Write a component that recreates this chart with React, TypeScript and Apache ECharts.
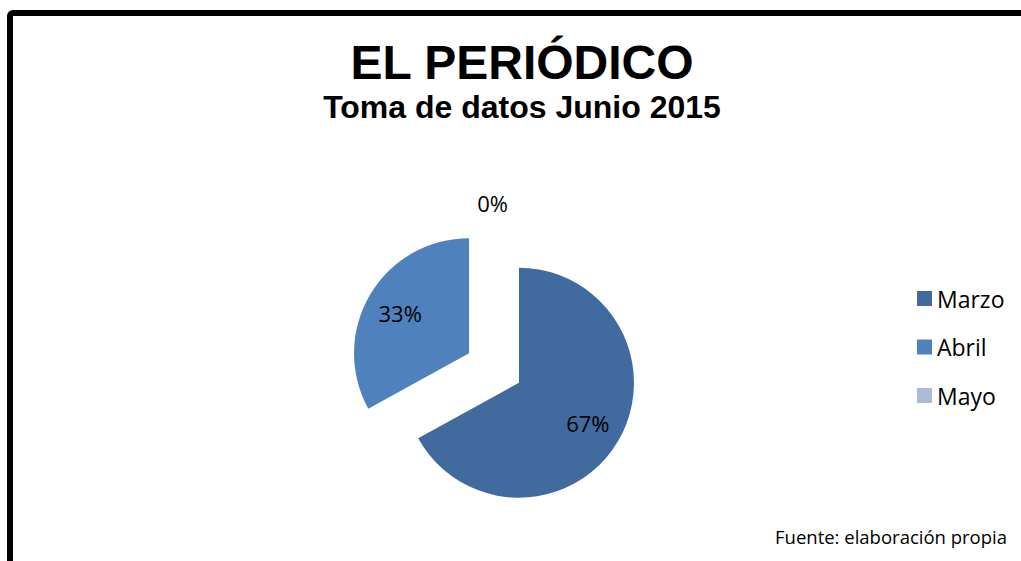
import React, { useEffect, useRef } from "react";
import * as echarts from "echarts";

const titleText = "EL PERIÓDICO";
const subtitleText = "Toma de datos Junio 2015";
const sourceText = "Fuente: elaboración propia";
const categories = ["Marzo", "Abril", "Mayo"];
const values = [67, 33, 0];
const colors = ["#416A9F", "#4F81BD", "#AABAD7"];

export default function App() {
  const ref = useRef<HTMLDivElement>(null);
  useEffect(() => {
    if (!ref.current) return;
    const chart = echarts.init(ref.current, undefined, { renderer: "svg" });
    const center = [494, 368];
    const visData = categories.map((name, i) => ({
      name,
      value: values[i],
      selected: true,
      itemStyle: { color: colors[i] },
      label: {
        show: values[i] === 0,
        position: "outside",
        fontFamily: "Open Sans",
        fontSize: 22,
        color: "#000",
        formatter: "{d}%",
        distanceToLabelLine: -14,
      },
      labelLine: { show: false, length: 21, length2: 0 },
    }));
    const labelData = categories.map((name, i) => ({
      name,
      value: values[i],
      selected: true,
      itemStyle: { color: "rgba(0,0,0,0)" },
      label: { show: values[i] !== 0 },
    }));
    chart.setOption({
      animation: false,
      backgroundColor: "#ffffff",
      title: [
        {
          text: titleText,
          left: 522,
          textAlign: "center",
          top: 38,
          padding: 0,
          textStyle: { fontFamily: "Liberation Sans", fontWeight: "bold", fontSize: 48, color: "#000" },
        },
        {
          text: subtitleText,
          left: 522,
          textAlign: "center",
          top: 91,
          padding: 0,
          textStyle: { fontFamily: "Liberation Sans", fontWeight: "bold", fontSize: 32, color: "#000" },
        },
        {
          text: sourceText,
          right: 14,
          top: 527,
          padding: 0,
          textStyle: { fontFamily: "Open Sans", fontWeight: "normal", fontSize: 18.5, color: "#000" },
        },
      ],
      legend: {
        orient: "vertical",
        left: 917,
        top: 286,
        padding: 0,
        itemWidth: 15,
        itemHeight: 15,
        itemGap: 23.5,
        icon: "rect",
        data: categories,
        textStyle: { fontFamily: "Open Sans", fontSize: 23, color: "#000", lineHeight: 25 },
        selectedMode: false,
      },
      graphic: [
        {
          type: "rect",
          shape: { x: 10, y: 13, width: 1200, height: 700, r: 3 },
          style: { fill: "none", stroke: "#000", lineWidth: 6 },
          silent: true,
        },
      ],
      series: [
        {
          type: "pie",
          center,
          radius: [0, 115],
          startAngle: 90,
          clockwise: true,
          selectedMode: "multiple",
          selectedOffset: 29,
          avoidLabelOverlap: false,
          stillShowZeroSum: true,
          emphasis: { disabled: true },
          data: visData,
        },
        {
          type: "pie",
          center,
          radius: [0, 154],
          startAngle: 90,
          clockwise: true,
          selectedMode: "multiple",
          selectedOffset: 29,
          avoidLabelOverlap: false,
          silent: true,
          emphasis: { disabled: true },
          label: {
            position: "inside",
            fontFamily: "Open Sans",
            fontSize: 22,
            color: "#000",
            formatter: "{d}%",
          },
          labelLine: { show: false },
          data: labelData,
        },
      ],
    });
    return () => chart.dispose();
  }, []);
  return (
    <div
      ref={ref}
      style={{ position: "fixed", left: 0, top: 0, width: 1021, height: 561 }}
    />
  );
}
